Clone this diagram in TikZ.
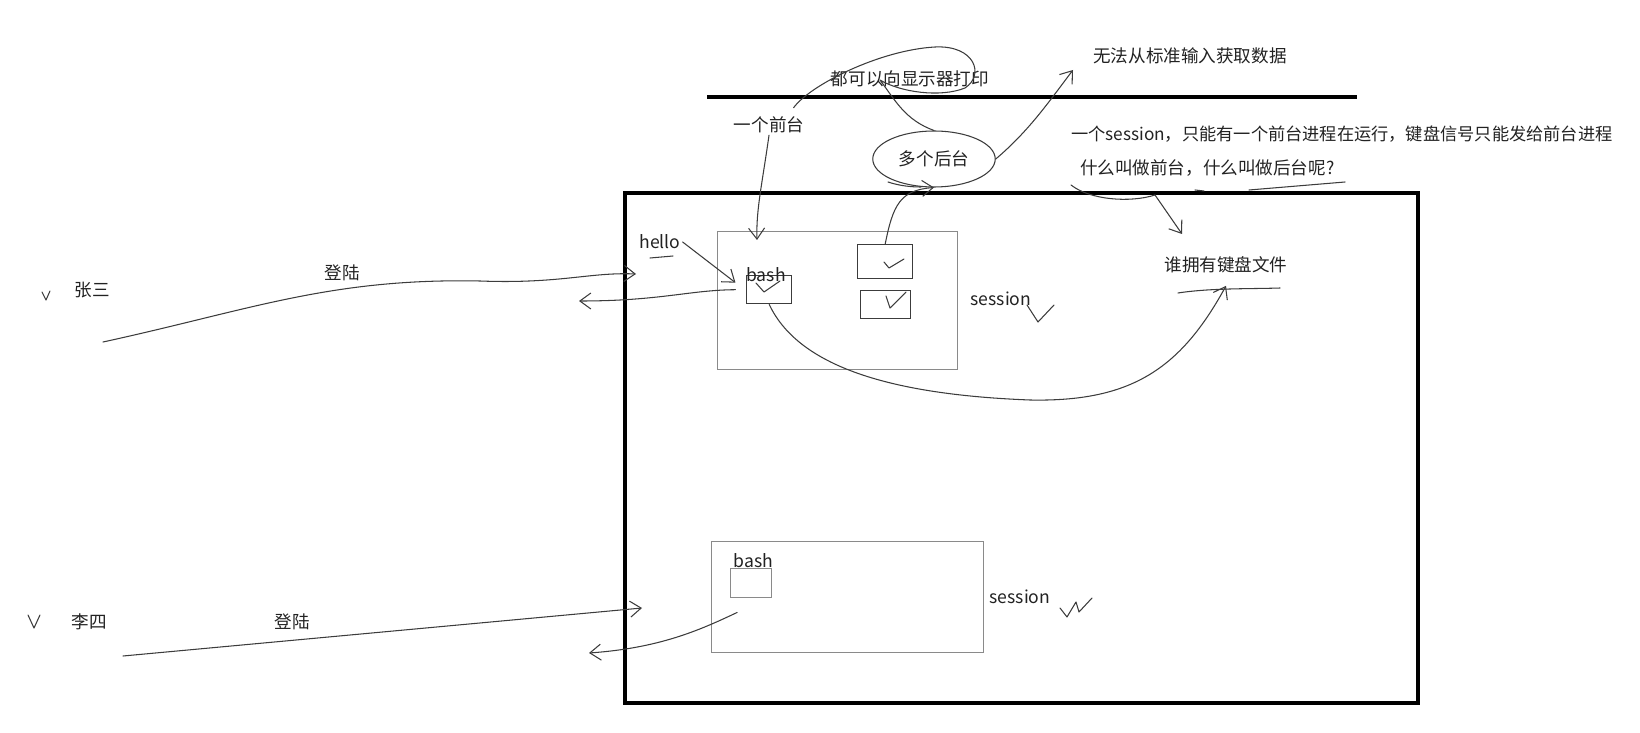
\documentclass[tikz,border=0pt]{standalone}
\usepackage{fontspec}
\setmainfont{Noto Sans CJK SC}
\usetikzlibrary{arrows.meta,positioning,shapes.geometric}
\definecolor{Ink}{HTML}{3C3C3C}
\definecolor{BoxGray}{HTML}{8A8A8A}
\definecolor{TextDark}{HTML}{222222}

\begin{document}
\begin{tikzpicture}[x=0.02cm,y=-0.02cm,
  lbl/.style={font=\fontsize{10}{12}\selectfont,text=TextDark,inner sep=1pt},
  sess/.style={draw=BoxGray,line width=0.8pt,inner sep=0pt,anchor=north west},
  hand/.style={Ink,line width=0.6pt,line cap=round,line join=round},
  handarrow/.style={hand,-{Straight Barb[length=2.2mm,width=3.2mm]}}]
  \useasboundingbox (0,0) rectangle (1640,733);

  % frame and rule
  \draw[line width=2pt] (625,193) rectangle (1418,703);
  \draw[line width=2pt] (707,97) -- (1357,97);

  % sessions and processes
  \node[sess,minimum width=4.8cm,minimum height=2.76cm] (sessA) at (717,231) {};
  \node[sess,draw=Ink,minimum width=0.9cm,minimum height=0.56cm] (bashA) at (746,275) {};
  \node[sess,draw=Ink,minimum width=1.1cm,minimum height=0.68cm] (jobB) at (857,244) {};
  \node[sess,draw=Ink,minimum width=1.0cm,minimum height=0.56cm] (jobC) at (860,290) {};
  \node[sess,minimum width=5.44cm,minimum height=2.22cm] (sessB) at (711,541) {};
  \node[sess,minimum width=0.82cm,minimum height=0.58cm] (bashB) at (730,568) {};

  \node[lbl,anchor=south west] (bashAtxt) at ([xshift=-1pt,yshift=-5pt]bashA.north west) {bash};
  \node[lbl,anchor=south west] (bashBtxt) at ([xshift=1pt,yshift=-1pt]bashB.north west) {bash};
  \node[lbl] (hello) at (660,242) {hello};
  \node[lbl] (sessAtxt) at (1001,299) {session};
  \node[lbl] (sessBtxt) at (1020,597) {session};

  % users
  \node[lbl] (zhang) at (92,290) {张三};
  \node[lbl] (li) at (89,622) {李四};
  \node[lbl] (loginA) at (342,273) {登陆};
  \node[lbl] (loginB) at (292,622) {登陆};

  % notes
  \node[lbl] (nodata) at (1190,56) {无法从标准输入获取数据};
  \node[lbl] (print) at (910,79) {都可以向显示器打印};
  \node[lbl] (fg) at (769,125) {一个前台};
  \node[lbl,draw=Ink,line width=0.6pt,ellipse,inner sep=0pt,
        minimum width=2.45cm,minimum height=1.12cm] (bg) at (934,159) {多个后台};
  \node[lbl,anchor=west,font=\fontsize{9.8}{12}\selectfont] (rule) at (1069,134) {一个session，只能有一个前台进程在运行，键盘信号只能发给前台进程};
  \node[lbl,anchor=west] (ask) at (1078,168) {什么叫做前台，什么叫做后台呢?};
  \node[lbl] (kbd) at (1226,265) {谁拥有键盘文件};

  % ticks
  \draw[hand] (756,283) -- (764,292) -- (780,281);
  \draw[hand] (884,262) -- (889,268) -- (904,259);
  \draw[hand] (886,296) -- (890,308) -- (906,292);
  \draw[hand] (1027,305) -- (1038,322) -- (1054,305);
  \draw[hand] (42,292) -- (46,300) -- (50,291);
  \draw[hand] (28,615) -- (34,628) -- (40,615);
  \draw[hand] (1060,608) -- (1067,617) -- (1076,602) -- (1079,612) -- (1092,598);
  \draw[hand] (650,258) -- (673,256);
  \draw[hand] (1071,185) .. controls (1090,200) and (1130,203) .. (1155,195);
  \draw[hand] (1195,190) -- (1204,191);
  \draw[hand] (1249,190) -- (1345,182);
  \draw[hand] (1178,293) .. controls (1210,288) and (1250,289) .. (1280,288);
  \draw[hand] (888,182) .. controls (900,186) and (912,187) .. (921,187);

  % logins
  \coordinate (zsEnd) at (103,342);
  \coordinate (zsIn) at (636,274);
  \coordinate (zsOut) at (579,301);
  \coordinate (lsEnd) at (123,656);
  \coordinate (lsIn) at (642,608);
  \coordinate (lsOut) at (589,653);
  \draw[handarrow] (zsEnd) .. controls (250,310) and (330,278) .. (480,281)
    .. controls (560,284) and (590,272) .. (zsIn);
  \draw[handarrow] ([xshift=-6pt]bashA.west) .. controls (690,290) and (660,301) .. (zsOut);
  \draw[handarrow] (lsEnd) -- (lsIn);
  \draw[handarrow] ([xshift=-8pt,yshift=-8pt]bashB.south) .. controls (700,630) and (660,648) .. (lsOut);

  % remarks
  \coordinate (loopTop) at (935,47);
  \coordinate (loopTurn) at (880,80);
  \coordinate (fgIn) at (757,240);
  \coordinate (nodataTip) at (1073,70);
  \coordinate (kbdTip) at (1182,234);
  \draw[hand] ([xshift=14pt,yshift=4pt]fg.north) .. controls (810,85) and (880,50) .. (loopTop)
    .. controls (975,45) and (985,75) .. (965,88) .. controls (940,98) and (900,92) .. (loopTurn)
    .. controls (895,100) and (905,120) .. (bg.north);
  \draw[handarrow] (hello.east) -- ([xshift=-6pt,yshift=4pt]bashA.west);
  \draw[handarrow] (fg.south) .. controls (762,185) and (756,210) .. (fgIn);
  \draw[handarrow] (jobB.north) .. controls (893,205) and (900,190) .. (bg.south);
  \draw[handarrow] (bg.east) .. controls (1030,130) and (1050,100) .. (nodataTip);
  \draw[handarrow] (1155,195) -- (kbdTip);
  \draw[handarrow] (bashA.south) .. controls (800,370) and (900,395) .. (1030,400)
    .. controls (1130,402) and (1180,370) .. ([yshift=-6pt]kbd.south);
\end{tikzpicture}
\end{document}
